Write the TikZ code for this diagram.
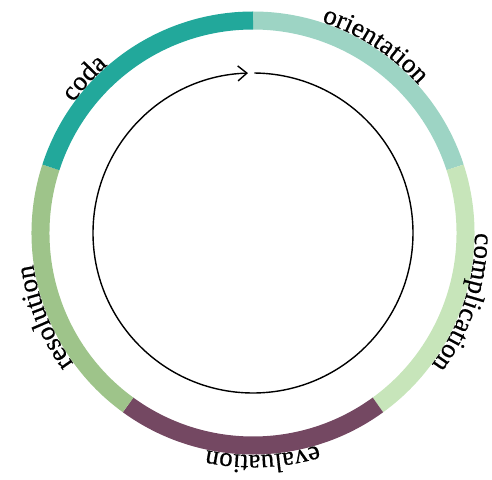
\documentclass[tikz,border=0pt]{standalone}
\usepackage{fontspec}
\setmainfont{Liberation Serif}
\newfontfamily\labfam{Liberation Serif}[FakeBold=0.5]
\usetikzlibrary{decorations.text,arrows.meta}
\definecolor{cCoda}{RGB}{34,168,155}
\definecolor{cOri}{RGB}{157,212,196}
\definecolor{cComp}{RGB}{199,229,186}
\definecolor{cEval}{RGB}{116,72,98}
\definecolor{cRes}{RGB}{158,196,138}
\newcommand\labfont{\labfam\fontsize{27}{27}\selectfont}
\begin{document}
\begin{tikzpicture}[x=1pt,y=1pt,
  seg/.style={line width=18pt},
  lab/.style={decorate}]
\useasboundingbox (-253,-246) rectangle (239,233);
% ring segments
\draw[seg,cOri]  (90:212.5)  arc[start angle=90,  end angle=18,   radius=212.5];
\draw[seg,cComp] (18:212.5)  arc[start angle=18,  end angle=-54,  radius=212.5];
\draw[seg,cEval] (-54:212.5) arc[start angle=-54, end angle=-126, radius=212.5];
\draw[seg,cRes]  (234:212.5) arc[start angle=234, end angle=162,  radius=212.5];
\draw[seg,cCoda] (162:212.5) arc[start angle=162, end angle=90,   radius=212.5];
% labels
\path[lab,decoration={text along path,text={|\labfont|orientation}}]
  (72:222) arc[start angle=72, end angle=18, radius=222];
\path[lab,decoration={text along path,text={|\labfont|complication}}]
  (0:222) arc[start angle=0, end angle=-54, radius=222];
\path[lab,decoration={text along path,text={|\labfont|evaluation}}]
  (-73:222) arc[start angle=-73, end angle=-126, radius=222];
\path[lab,decoration={text along path,text={|\labfont|resolution}}]
  (216:222) arc[start angle=216, end angle=162, radius=222];
\path[lab,decoration={text along path,text={|\labfont|coda}}]
  (144:222) arc[start angle=144, end angle=90, radius=222];
% inner cycle arrow
\draw[line width=1.4pt,-{Straight Barb[length=9pt,width=15pt]}]
  (89.5:160) arc[start angle=89.5, end angle=-268.2, radius=160];
\end{tikzpicture}
\end{document}
